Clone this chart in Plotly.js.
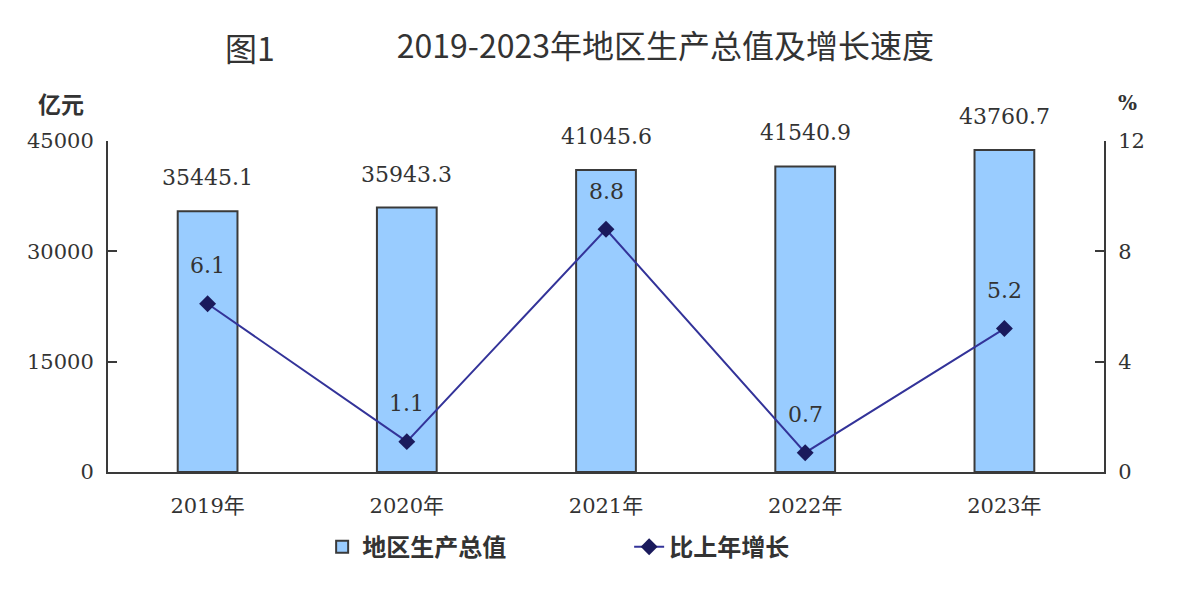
<!DOCTYPE html>
<html>
<head>
<meta charset="utf-8">
<script src="https://cdn.plot.ly/plotly-3.0.1.min.js"></script>
<style>
  body { margin: 0; background: #fff; }
  #chart { width: 1201px; height: 603px; }
</style>
</head>
<body>
<div id="chart"></div>
<script>
var years = ['2019年', '2020年', '2021年', '2022年', '2023年'];
var gdp = [35445.1, 35943.3, 41045.6, 41540.9, 43760.7];
var growth = [6.1, 1.1, 8.8, 0.7, 5.2];

var serif = 'DejaVu Serif, Liberation Serif, Noto Sans CJK SC, serif';
var cjk = 'Noto Sans CJK SC, sans-serif';
var txt = '#333333';

var bars = {
  x: years,
  y: gdp,
  type: 'bar',
  name: '地区生产总值',
  width: 0.3,
  marker: { color: '#99CCFF', line: { color: '#3a3a3a', width: 2 } },
  hoverinfo: 'skip'
};

var line = {
  x: years,
  y: growth,
  type: 'scatter',
  mode: 'lines+markers',
  name: '比上年增长',
  yaxis: 'y2',
  line: { color: '#333399', width: 2 },
  marker: { symbol: 'diamond', size: 13, color: '#1a1a5c' },
  hoverinfo: 'skip'
};

var notes = [];
// bar value labels
for (var i = 0; i < years.length; i++) {
  notes.push({
    x: years[i], y: gdp[i], xref: 'x', yref: 'y',
    text: gdp[i].toFixed(1), showarrow: false,
    yanchor: 'bottom', yshift: 19,
    font: { family: serif, size: 22, color: txt }
  });
}
// growth labels
for (var j = 0; j < years.length; j++) {
  notes.push({
    x: years[j], y: growth[j], xref: 'x', yref: 'y2',
    text: growth[j].toFixed(1), showarrow: false,
    yanchor: 'middle', yshift: 38,
    font: { family: serif, size: 22, color: txt }
  });
}
notes.push({
  xref: 'paper', yref: 'paper', x: -0.047, y: 1.115,
  xanchor: 'center', yanchor: 'middle',
  text: '<b>亿元</b>', showarrow: false,
  font: { family: cjk, size: 23, color: txt }
});
notes.push({
  xref: 'paper', yref: 'paper', x: 1.024, y: 1.115,
  xanchor: 'center', yanchor: 'middle',
  text: '<b>%</b>', showarrow: false,
  font: { family: serif, size: 20, color: txt }
});
notes.push({
  xref: 'paper', yref: 'paper', x: 0.143, y: 1.284,
  xanchor: 'center', yanchor: 'middle',
  text: '图1', showarrow: false,
  font: { family: cjk, size: 32, color: txt }
});

var layout = {
  width: 1201,
  height: 603,
  margin: { l: 108, r: 97, t: 141, b: 131 },
  paper_bgcolor: '#ffffff',
  plot_bgcolor: '#ffffff',
  title: {
    text: '2019-2023年地区生产总值及增长速度',
    xref: 'container', yref: 'container',
    x: 0.554, y: 0.922, xanchor: 'center', yanchor: 'middle',
    font: { family: cjk, size: 32, color: txt }
  },
  showlegend: true,
  legend: {
    orientation: 'h',
    x: 0.215, y: -0.227, xanchor: 'left', yanchor: 'middle',
    entrywidth: 262,
    font: { family: cjk, size: 24, color: txt, weight: 'bold' },
    traceorder: 'normal'
  },
  xaxis: {
    showline: true, linecolor: '#3a3a3a', linewidth: 2,
    ticks: '', showgrid: false, zeroline: false,
    tickfont: { family: serif, size: 21, color: txt },
    ticklabelstandoff: 14
  },
  yaxis: {
    range: [0, 45000], dtick: 15000, tick0: 0,
    tickformat: 'd',
    showline: true, linecolor: '#3a3a3a', linewidth: 2,
    ticks: 'inside', ticklen: 9, tickwidth: 2, tickcolor: '#3a3a3a',
    showgrid: false, zeroline: false,
    tickfont: { family: serif, size: 21, color: txt },
    ticklabelstandoff: 8
  },
  yaxis2: {
    overlaying: 'y', side: 'right',
    range: [0, 12], dtick: 4, tick0: 0,
    showline: true, linecolor: '#3a3a3a', linewidth: 2,
    ticks: 'inside', ticklen: 9, tickwidth: 2, tickcolor: '#3a3a3a',
    showgrid: false, zeroline: false,
    tickfont: { family: serif, size: 21, color: txt },
    ticklabelstandoff: 8
  },
  annotations: notes
};

Plotly.newPlot('chart', [bars, line], layout, { staticPlot: true });
</script>
</body>
</html>
